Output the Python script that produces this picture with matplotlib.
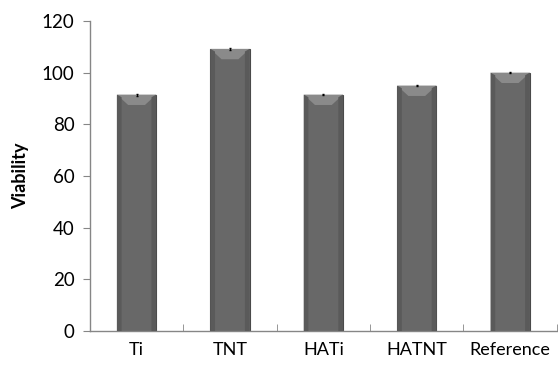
import numpy as np
import matplotlib.pyplot as plt

categories = ["Ti", "TNT", "HATi", "HATNT", "Reference"]
viability = [91.5, 109.2, 91.5, 95.0, 100.0]
errors = [0.4, 0.3, 0.3, 0.3, 0.3]

plt.rcParams['font.family'] = ['Lato', 'DejaVu Sans']

fig = plt.figure(figsize=(5.58, 3.69), dpi=100)
ax = fig.add_axes([0.161, 0.103, 0.837, 0.84])

x = np.arange(len(categories))
w = 0.42
ax.bar(x, viability, width=w, color="#686868", edgecolor="#4a4a4a", linewidth=0.8, zorder=2)
# lighter bevel strip along the top of each bar
for xi, v in zip(x, viability):
    ax.fill([xi - w/2, xi + w/2, xi + w/2 - 0.12, xi - w/2 + 0.12],
            [v, v, v - 4, v - 4], color="#8a8a8a", lw=0, zorder=3)
    ax.fill([xi - w/2, xi - w/2 + 0.05, xi - w/2 + 0.05, xi - w/2],
            [0, 0, v - 1, v], color="#5a5a5a", lw=0, zorder=3)
    ax.fill([xi + w/2, xi + w/2 - 0.05, xi + w/2 - 0.05, xi + w/2],
            [0, 0, v - 1, v], color="#5a5a5a", lw=0, zorder=3)
ax.errorbar(x, viability, yerr=errors, fmt="none", ecolor="black", elinewidth=0.7, capsize=1, zorder=4)

ax.set_xlim(-0.5, 4.5)
ax.set_ylim(0, 120)
ax.set_yticks(np.arange(0, 121, 20))
ax.set_xticks(x)
ax.set_xticklabels(categories, fontsize=13)
ax.tick_params(axis="x", length=0, pad=8)
ax.set_xticks(np.arange(-0.5, 4.6, 1), minor=True)
ax.tick_params(axis="x", which="minor", direction="in", length=5, color="#868686")
ax.tick_params(axis="y", direction="out", length=5, color="#868686", labelsize=13.5, pad=6)
ax.set_ylabel("Viability", fontsize=13, fontweight="bold", labelpad=9)

for s in ["top", "right"]:
    ax.spines[s].set_visible(False)
for s in ["left", "bottom"]:
    ax.spines[s].set_color("#868686")
    ax.spines[s].set_linewidth(1.0)

fig.savefig("out.png", dpi=100)
